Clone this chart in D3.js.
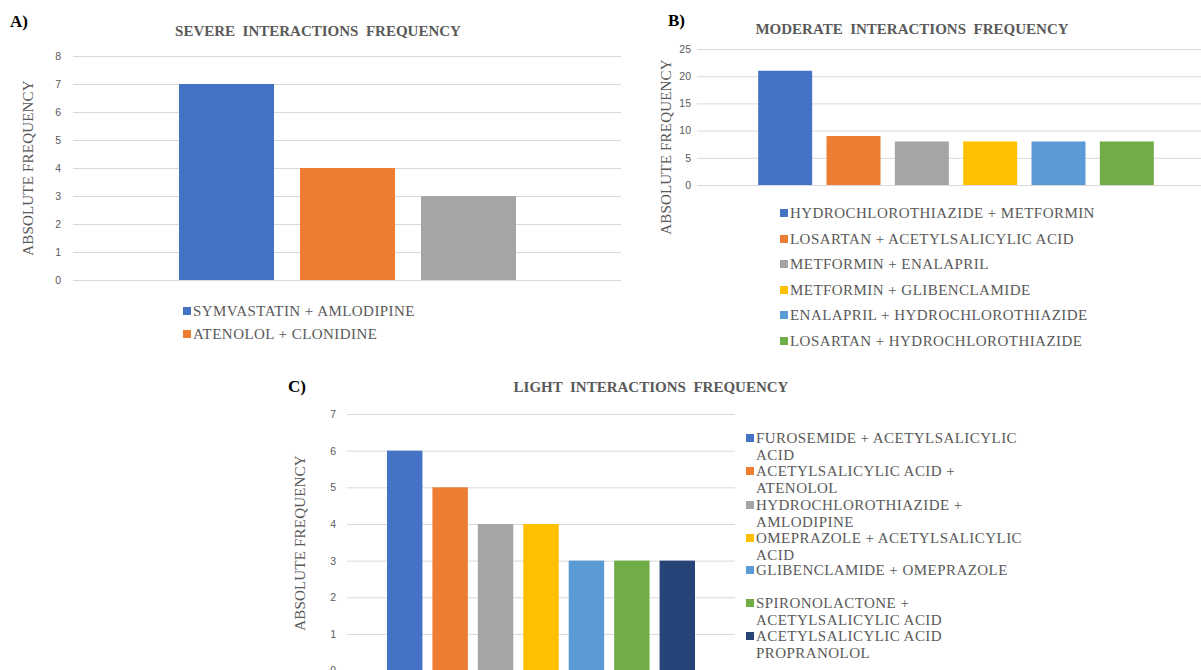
<!DOCTYPE html>
<html>
<head>
<meta charset="utf-8">
<script src="https://cdn.jsdelivr.net/npm/d3@7"></script>
<style>
  html, body { margin: 0; padding: 0; background: #fff; }
  svg { display: block; }
  .serif { font-family: "Liberation Serif", "Times New Roman", Times, serif; }
  .sans { font-family: "Liberation Sans", Arial, sans-serif; }
</style>
</head>
<body>
<svg id="chart" width="1201" height="670"></svg>
<script>
// ---- DATA ----
const colors = ["#4472C4", "#ED7D31", "#A5A5A5", "#FFC000", "#5B9BD5", "#70AD47", "#264478"];

const severeCategories = ["SYMVASTATIN + AMLODIPINE", "ATENOLOL + CLONIDINE", "(3)"];
const severeValues = [7, 4, 3];
const severeLegend = ["SYMVASTATIN + AMLODIPINE", "ATENOLOL + CLONIDINE"];
const severeTicks = [0, 1, 2, 3, 4, 5, 6, 7, 8];

const moderateCategories = [
  "HYDROCHLOROTHIAZIDE + METFORMIN",
  "LOSARTAN + ACETYLSALICYLIC ACID",
  "METFORMIN + ENALAPRIL",
  "METFORMIN + GLIBENCLAMIDE",
  "ENALAPRIL + HYDROCHLOROTHIAZIDE",
  "LOSARTAN + HYDROCHLOROTHIAZIDE"
];
const moderateValues = [21, 9, 8, 8, 8, 8];
const moderateTicks = [0, 5, 10, 15, 20, 25];

const lightCategories = [
  ["FUROSEMIDE + ACETYLSALICYLIC", "ACID"],
  ["ACETYLSALICYLIC ACID +", "ATENOLOL"],
  ["HYDROCHLOROTHIAZIDE +", "AMLODIPINE"],
  ["OMEPRAZOLE + ACETYLSALICYLIC", "ACID"],
  ["GLIBENCLAMIDE + OMEPRAZOLE"],
  ["SPIRONOLACTONE +", "ACETYLSALICYLIC ACID"],
  ["ACETYLSALICYLIC ACID", "PROPRANOLOL"]
];
const lightValues = [6, 5, 4, 4, 3, 3, 3];
const lightTicks = [0, 1, 2, 3, 4, 5, 6, 7];

// ---- DRAWING ----
const svg = d3.select("#chart");
const textColor = "#595959";

function panel(cfg) {
  const g = svg.append("g");
  const y = d3.scaleLinear().domain(cfg.domain).range([cfg.y0, cfg.y1]);
  const x = d3.scaleBand().domain(d3.range(cfg.values.length))
    .range([cfg.bx0, cfg.bx1]).paddingInner(cfg.pad).paddingOuter(cfg.pad / 2);

  const axis = d3.axisLeft(y).tickValues(cfg.ticks).tickFormat(d3.format("d"))
    .tickSize(-(cfg.gx1 - cfg.gx0)).tickPadding(cfg.tickPad);
  const ag = g.append("g").attr("transform", `translate(${cfg.gx0},0)`).call(axis);
  ag.attr("font-family", null).attr("font-size", null);
  ag.select(".domain").remove();
  ag.selectAll(".tick line").attr("stroke", "#d9d9d9").attr("stroke-width", 1);
  ag.selectAll(".tick text").attr("class", "sans").attr("fill", textColor).style("font-size", "10.5px");

  g.selectAll("rect.bar").data(cfg.values).join("rect")
    .attr("class", "bar")
    .attr("x", (d, i) => x(i))
    .attr("width", x.bandwidth())
    .attr("y", d => y(d))
    .attr("height", d => y(0) - y(d))
    .attr("fill", (d, i) => colors[i]);

  g.append("text").attr("class", "serif").attr("x", cfg.titleX).attr("y", cfg.titleY)
    .attr("text-anchor", "middle").attr("fill", textColor)
    .style("font-weight", "bold").style("font-size", "15px")
    .style("white-space", "pre").text(cfg.title);

  g.append("text").attr("class", "serif").attr("x", cfg.letterX).attr("y", cfg.letterY)
    .attr("fill", "#000").style("font-weight", "bold").style("font-size", "17px")
    .text(cfg.letter);

  g.append("text").attr("class", "serif").attr("transform", `translate(${cfg.ytX},${cfg.ytY}) rotate(-90)`)
    .attr("text-anchor", "middle").attr("fill", textColor)
    .style("font-size", "15px").style("letter-spacing", "0.2px")
    .text("ABSOLUTE FREQUENCY");

  const lg = g.append("g");
  cfg.legend.forEach((item, i) => {
    const lines = Array.isArray(item) ? item : [item];
    const ly = cfg.legendY[i];
    lg.append("rect").attr("x", cfg.legendX).attr("y", ly - 9).attr("width", 8).attr("height", 8)
      .attr("fill", colors[i]);
    lines.forEach((ln, j) => {
      lg.append("text").attr("class", "serif").attr("x", cfg.legendX + 10).attr("y", ly + j * cfg.lineH)
        .attr("fill", textColor).style("font-size", "15px").style("letter-spacing", "0.45px")
        .text(ln);
    });
  });
}

panel({
  values: severeValues, domain: [0, 8], ticks: severeTicks,
  y0: 280, y1: 56, gx0: 73, gx1: 621, tickPad: 12,
  bx0: 166, bx1: 529, pad: 0.215,
  title: "SEVERE  INTERACTIONS  FREQUENCY", titleX: 318, titleY: 36,
  letter: "A)", letterX: 10, letterY: 27,
  ytX: 33, ytY: 168,
  legend: severeLegend, legendX: 183, legendY: [316, 339], lineH: 17
});

panel({
  values: moderateValues, domain: [0, 25], ticks: moderateTicks,
  y0: 185, y1: 49, gx0: 697, gx1: 1201, tickPad: 6,
  bx0: 751, bx1: 1161, pad: 0.21,
  title: "MODERATE  INTERACTIONS  FREQUENCY", titleX: 912, titleY: 34,
  letter: "B)", letterX: 668, letterY: 26,
  ytX: 671, ytY: 147,
  legend: moderateCategories, legendX: 780, legendY: [218, 244, 269, 295, 320, 346], lineH: 17
});

panel({
  values: lightValues, domain: [0, 7], ticks: lightTicks,
  y0: 670.6, y1: 414, gx0: 347, gx1: 735, tickPad: 11,
  bx0: 382, bx1: 700, pad: 0.22,
  title: "LIGHT  INTERACTIONS  FREQUENCY", titleX: 651, titleY: 392,
  letter: "C)", letterX: 288, letterY: 392,
  ytX: 305, ytY: 543,
  legend: lightCategories, legendX: 746, legendY: [443, 476, 510, 543, 575, 608, 641], lineH: 16.7
});
</script>
</body>
</html>
